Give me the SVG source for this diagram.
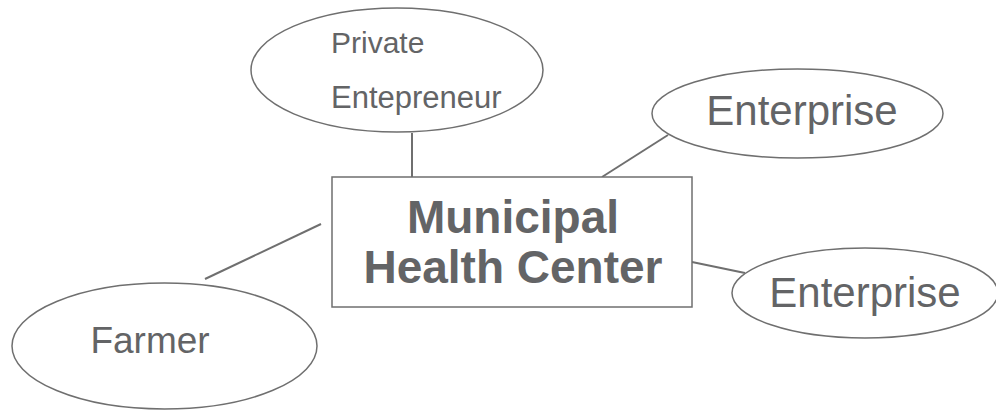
<svg xmlns="http://www.w3.org/2000/svg" width="996" height="410" viewBox="0 0 996 410">
<style>
.shape{fill:#ffffff;stroke:#6f6f6f;stroke-width:1.5}
.conn{stroke:#6f6f6f;stroke-width:2;fill:none}
.t{font-family:"Liberation Sans",Arial,sans-serif;fill:#636466}
.b{font-weight:bold}
</style>
<rect width="996" height="410" fill="#ffffff"/>
<g id="connectors">
<line class="conn" x1="412" y1="133" x2="412" y2="177"/>
<line class="conn" x1="602" y1="177" x2="668" y2="135"/>
<line class="conn" x1="692" y1="262" x2="745" y2="273"/>
<line class="conn" x1="205" y1="279" x2="321" y2="224"/>
</g>
<g id="private-entrepreneur">
<ellipse class="shape" cx="397" cy="70" rx="146" ry="62"/>
<text class="t" x="331" y="53" font-size="30">Private</text>
<text class="t" x="331" y="108" font-size="31">Entepreneur</text>
</g>
<g id="enterprise-top">
<ellipse class="shape" cx="797.5" cy="113.5" rx="145.5" ry="44.5"/>
<text class="t" x="802" y="125" font-size="42" text-anchor="middle">Enterprise</text>
</g>
<g id="municipal-health-center">
<rect class="shape" x="332" y="177" width="360" height="130"/>
<text class="t b" x="513" y="233" font-size="46" text-anchor="middle">Municipal</text>
<text class="t b" x="513" y="283" font-size="46" text-anchor="middle">Health Center</text>
</g>
<g id="enterprise-bottom">
<ellipse class="shape" cx="865" cy="293" rx="133" ry="45"/>
<text class="t" x="865" y="307" font-size="42" text-anchor="middle">Enterprise</text>
</g>
<g id="farmer">
<ellipse class="shape" cx="164.5" cy="346" rx="152.5" ry="63"/>
<text class="t" x="150" y="353" font-size="37" text-anchor="middle">Farmer</text>
</g>
</svg>
